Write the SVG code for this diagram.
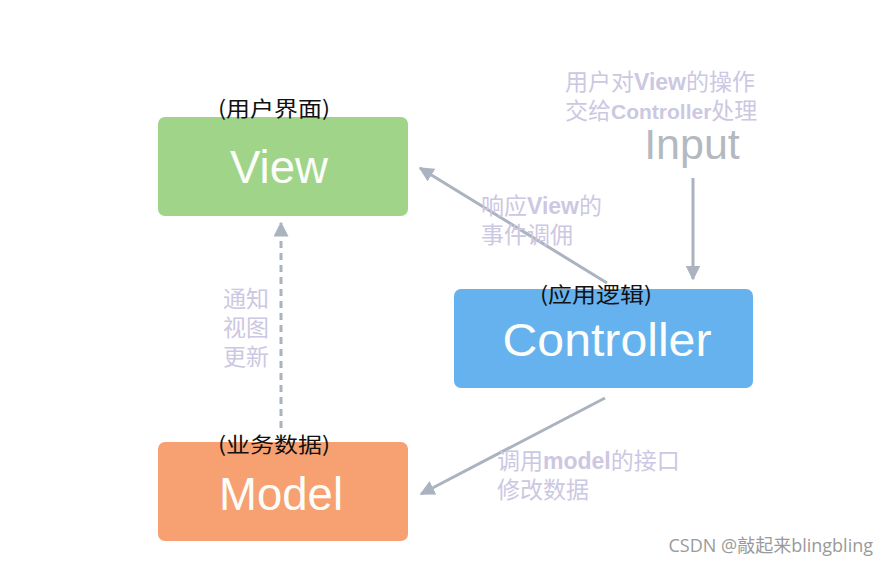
<svg xmlns="http://www.w3.org/2000/svg" width="889" height="566" viewBox="0 0 889 566">
<style>
.box-label{font-family:"Liberation Sans",Arial,sans-serif;fill:#fbfdf9;text-anchor:middle;font-size:46px}
.tag{font-family:"Noto Sans CJK SC",sans-serif;font-size:21px;fill:#111}
.note{font-family:"Noto Sans CJK SC",sans-serif;font-size:23px;fill:#ccc8e2}
.note tspan{font-family:"Liberation Sans",Arial,sans-serif;font-weight:bold}
.conn{stroke:#aab3bf;stroke-width:3;fill:none}
</style>
<defs>
<marker id="ah" viewBox="0 0 10 10" refX="9" refY="5" markerWidth="5" markerHeight="5" orient="auto" markerUnits="strokeWidth">
<path d="M0,0 L10,5 L0,10 z" fill="#aab3bf"/>
</marker>
</defs>
<rect width="889" height="566" fill="#ffffff"/>
<g id="connectors">
<line class="conn" x1="693" y1="178" x2="693" y2="279" marker-end="url(#ah)"/>
<line class="conn" x1="607" y1="283" x2="420" y2="168" marker-end="url(#ah)"/>
<line class="conn" x1="281" y1="428" x2="281" y2="223" stroke-dasharray="7,5" marker-end="url(#ah)"/>
<line class="conn" x1="605" y1="398" x2="421" y2="494" marker-end="url(#ah)"/>
</g>
<g id="view">
<rect x="158" y="117" width="250" height="99" rx="7" fill="#a0d489"/>
<text class="box-label" x="279" y="183" textLength="98" lengthAdjust="spacingAndGlyphs">View</text>
<text class="tag" x="218" y="116" textLength="112" lengthAdjust="spacingAndGlyphs">(用户界面)</text>
</g>
<g id="controller">
<rect x="454" y="289" width="299" height="99" rx="7" fill="#66b2ef"/>
<text class="box-label" x="607" y="356" textLength="209" lengthAdjust="spacingAndGlyphs">Controller</text>
<text class="tag" x="540" y="302" textLength="112" lengthAdjust="spacingAndGlyphs">(应用逻辑)</text>
</g>
<g id="model">
<rect x="158" y="442" width="250" height="99" rx="7" fill="#f7a072"/>
<text class="box-label" x="281" y="510" textLength="124" lengthAdjust="spacingAndGlyphs">Model</text>
<text class="tag" x="218" y="452" textLength="112" lengthAdjust="spacingAndGlyphs">(业务数据)</text>
</g>
<g id="input">
<text x="692" y="159" font-family="'Liberation Sans',Arial,sans-serif" font-size="43" fill="#b4b9c1" text-anchor="middle">Input</text>
</g>
<g id="notes">
<text class="note" x="565" y="90">用户对<tspan>View</tspan>的操作</text>
<text class="note" x="565" y="119">交给<tspan font-size="21">Controller</tspan>处理</text>
<text class="note" x="481" y="214">响应<tspan>View</tspan>的</text>
<text class="note" x="481" y="243">事件调佣</text>
<text class="note" x="223" y="307">通知</text>
<text class="note" x="223" y="336">视图</text>
<text class="note" x="223" y="365">更新</text>
<text class="note" x="497" y="469">调用<tspan>model</tspan>的接口</text>
<text class="note" x="497" y="498">修改数据</text>
</g>
<text x="873" y="552" font-family="'Open Sans','Noto Sans CJK SC',sans-serif" font-size="18" fill="#9a9a9a" text-anchor="end">CSDN @敲起来blingbling</text>
</svg>
